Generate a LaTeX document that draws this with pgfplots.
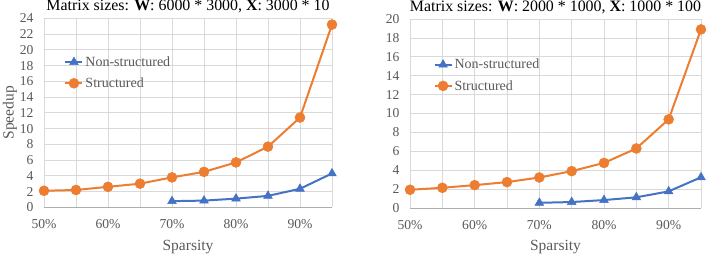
\documentclass[border=0pt]{standalone}
\usepackage{pgfplots}
\pgfplotsset{compat=1.18}
\usepackage{fontspec}
\setmainfont{Liberation Serif}
\definecolor{nsblue}{HTML}{4472C4}
\definecolor{sorange}{HTML}{ED7D31}
\definecolor{gridgray}{HTML}{D9D9D9}
\definecolor{ticktext}{HTML}{595959}
\pgfplotsset{
  myax/.style={
    scale only axis, height=189bp,
    xmin=50, xmax=95, ymin=0,
    axis x line*=bottom, axis y line*=left,
    y axis line style={draw=none},
    x axis line style={draw=gridgray!80!black, line width=0.8bp},
    xtick={50,60,70,80,90},
    xticklabels={50\%,60\%,70\%,80\%,90\%},
    minor xtick={55,65,75,85,95},
    xmajorgrids, xminorgrids, ymajorgrids,
    grid style={draw=gridgray, line width=0.6bp},
    minor grid style={draw=gridgray, line width=0.6bp},
    major tick length=0pt, minor tick length=0pt,
    /pgf/number format/assume math mode=true,
    tick label style={font=\fontsize{13.6bp}{15bp}\selectfont, text=ticktext},
    yticklabel style={xshift=-7bp},
    xticklabel style={yshift=-9bp},
    label style={font=\fontsize{15.5bp}{18bp}\selectfont, text=ticktext},
    xlabel={Sparsity},
    xlabel style={yshift=-4bp},
    every axis title shift=0pt,
    title style={font=\fontsize{15.9bp}{18bp}\selectfont, at={(rel axis cs:0.5,1)}, anchor=base, yshift=7.5bp},
    clip=false,
    legend style={draw=none, fill=none, font=\fontsize{14bp}{16bp}\selectfont, text=ticktext, row sep=6bp, anchor=north west},
    legend cell align=left,
  },
  ns/.style={color=nsblue, line width=2bp, mark=triangle*, mark size=5bp, mark options={line width=0.5bp}},
  st/.style={color=sorange, line width=2bp, mark=*, mark size=5bp, mark options={line width=0.5bp}},
}
\begin{document}
\begin{tikzpicture}
\useasboundingbox (0,0) rectangle (706bp,255bp);
\begin{axis}[myax, at={(44bp,47.7bp)}, anchor=south west, width=288bp,
  ymax=24, ytick={0,2,...,24},
  ylabel={Speedup}, ylabel style={yshift=-4bp},
  title={Matrix sizes: \textbf{W}: 6000 * 3000, \textbf{X}: 3000 * 10},
  legend style={at={(rel axis cs:0.06,0.82)}}]
\addplot[ns] coordinates {(70,0.78) (75,0.85) (80,1.1) (85,1.45) (90,2.35) (95,4.3)};
\addlegendentry{Non-structured}
\addplot[st] coordinates {(50,2.1) (55,2.2) (60,2.6) (65,3.0) (70,3.8) (75,4.5) (80,5.7) (85,7.7) (90,11.4) (95,23.2)};
\addlegendentry{Structured}
\end{axis}
\begin{axis}[myax, at={(410bp,47bp)}, anchor=south west, width=291bp,
  ymax=20, ytick={0,2,...,20},
  title={Matrix sizes: \textbf{W}: 2000 * 1000, \textbf{X}: 1000 * 100},
  legend style={at={(rel axis cs:0.07,0.81)}}]
\addplot[ns] coordinates {(70,0.55) (75,0.63) (80,0.84) (85,1.13) (90,1.76) (95,3.25)};
\addlegendentry{Non-structured}
\addplot[st] coordinates {(50,1.93) (55,2.14) (60,2.42) (65,2.74) (70,3.23) (75,3.9) (80,4.77) (85,6.3) (90,9.38) (95,18.9)};
\addlegendentry{Structured}
\end{axis}
\end{tikzpicture}
\end{document}
